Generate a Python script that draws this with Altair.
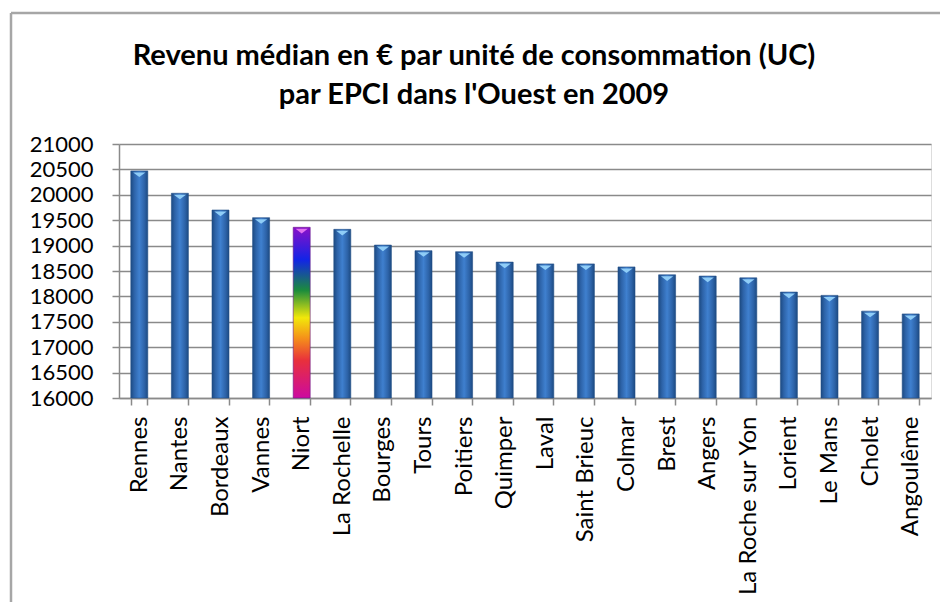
import altair as alt
import pandas as pd

epci = ["Rennes", "Nantes", "Bordeaux", "Vannes", "Niort", "La Rochelle", "Bourges",
        "Tours", "Poitiers", "Quimper", "Laval", "Saint Brieuc", "Colmar", "Brest",
        "Angers", "La Roche sur Yon", "Lorient", "Le Mans", "Cholet", "Angoulême"]
revenu = [20470, 20030, 19700, 19550, 19360, 19320, 19010,
          18900, 18880, 18675, 18640, 18640, 18580, 18425,
          18400, 18365, 18085, 18020, 17710, 17655]
highlight = "Niort"
y_ticks = list(range(16000, 21001, 500))
title_lines = ["Revenu médian en € par unité de consommation (UC)",
               "par EPCI dans l'Ouest en 2009"]

df = pd.DataFrame({"epci": epci, "revenu": revenu})
df["base"] = 16000

FONT = "Lato"

x_enc = alt.X("epci:N", sort=epci, scale=alt.Scale(domain=epci, paddingInner=0.6, paddingOuter=0.3),
              axis=alt.Axis(title=None, labelAngle=-90, labelFontSize=24, labelFont=FONT,
                            labelColor="black", tickBand="extent", tickSize=7, labelPadding=11,
                            domainColor="#8a8a8a", tickColor="#8a8a8a", domainWidth=1.5,
                            tickWidth=1.5, grid=False))
y_enc = alt.Y("revenu:Q", scale=alt.Scale(domain=[16000, 21000], zero=False, nice=False),
              axis=alt.Axis(title=None, values=y_ticks, format="d", labelFontSize=22,
                            labelFont=FONT, labelColor="black", tickSize=7, labelPadding=19,
                            grid=True, gridColor="#8a8a8a", gridWidth=1.5,
                            domainColor="#8a8a8a", tickColor="#8a8a8a", domainWidth=1.5,
                            tickWidth=1.5))

blue_grad = alt.LinearGradient(
    gradient="linear", x1=0, x2=1, y1=0, y2=0,
    stops=[alt.GradientStop(offset=0, color="#1c4a82"),
           alt.GradientStop(offset=0.2, color="#2d63a8"),
           alt.GradientStop(offset=0.5, color="#3f80cf"),
           alt.GradientStop(offset=0.8, color="#2d63a8"),
           alt.GradientStop(offset=1, color="#1c4a82")])
rainbow = alt.LinearGradient(
    gradient="linear", x1=0, x2=0, y1=0, y2=1,
    stops=[alt.GradientStop(offset=0, color="#8a10c8"),
           alt.GradientStop(offset=0.19, color="#1224e6"),
           alt.GradientStop(offset=0.37, color="#1c8c3c"),
           alt.GradientStop(offset=0.53, color="#f2e80a"),
           alt.GradientStop(offset=0.65, color="#f5901a"),
           alt.GradientStop(offset=0.78, color="#e8303c"),
           alt.GradientStop(offset=1, color="#cc0aa0")])

base = alt.Chart(df)

bars = base.transform_filter(alt.datum.epci != highlight).mark_bar(
    size=17, fill=blue_grad, stroke="#234f86", strokeWidth=0.6
).encode(x=x_enc, y=y_enc, y2="base:Q")

niort = base.transform_filter(alt.datum.epci == highlight).mark_bar(
    size=17, fill=rainbow, stroke="#6a1a8a", strokeWidth=0.6
).encode(x=x_enc, y=y_enc, y2="base:Q")

tri_shape = "M-1,0 L1,0 L0,0.75 Z"
tri_blue = base.transform_filter(alt.datum.epci != highlight).mark_point(
    shape=tri_shape, size=150, filled=True, fill="#8fcdf7", opacity=1, strokeWidth=0, yOffset=1.5
).encode(x=x_enc, y=y_enc)
tri_niort = base.transform_filter(alt.datum.epci == highlight).mark_point(
    shape=tri_shape, size=150, filled=True, fill="#e070f0", opacity=1, strokeWidth=0, yOffset=1.5
).encode(x=x_enc, y=y_enc)

one = pd.DataFrame({"k": [0]})
frame_left = alt.Chart(one).mark_rule(color="#a6a6a6", strokeWidth=2.5).encode(
    x=alt.value(-108), y=alt.value(-131), y2=alt.value(600))
frame_top = alt.Chart(one).mark_rule(color="#a6a6a6", strokeWidth=2.5).encode(
    x=alt.value(-108), x2=alt.value(900), y=alt.value(-131))

title1 = alt.Chart(one).mark_text(font=FONT, fontSize=29, fontWeight="bold", color="black",
                                  align="center", baseline="middle").encode(
    x=alt.value(355), y=alt.value(-88), text=alt.value(title_lines[0]))
title2 = alt.Chart(one).mark_text(font=FONT, fontSize=29, fontWeight="bold", color="black",
                                  align="center", baseline="middle").encode(
    x=alt.value(355), y=alt.value(-49), text=alt.value(title_lines[1]))

chart = alt.layer(bars, niort, tri_blue, tri_niort, frame_left, frame_top, title1, title2).properties(
    width=812, height=254,
    autosize=alt.AutoSizeParams(type="none"),
    padding={"left": 111, "top": 136, "right": 9, "bottom": 204},
).configure_view(stroke=None).configure(background="white")

chart.save("out.html", embed_options={"renderer": "svg", "actions": False})
